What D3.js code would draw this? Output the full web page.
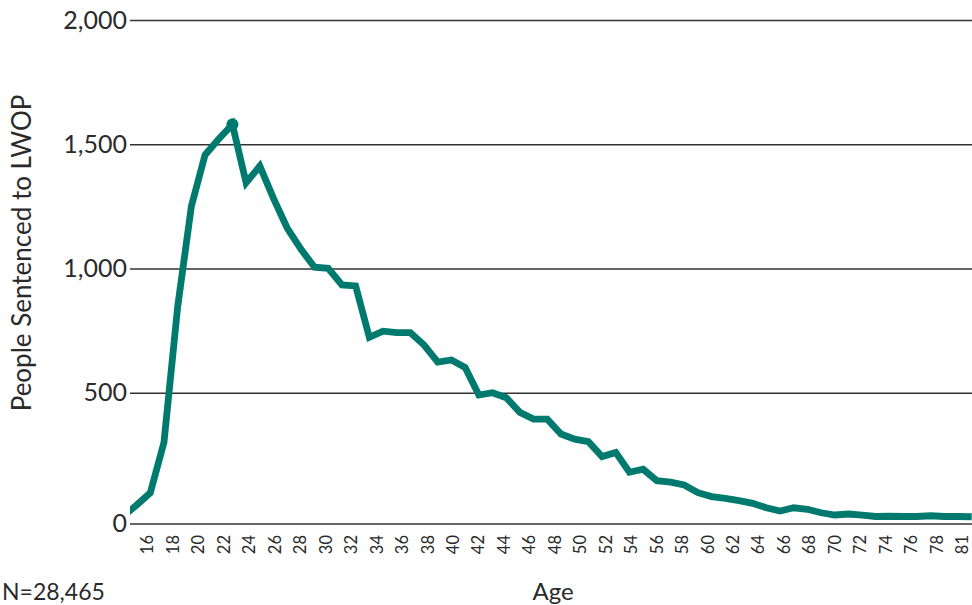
<!DOCTYPE html>
<html>
<head>
<meta charset="utf-8">
<script src="https://cdn.jsdelivr.net/npm/d3@7"></script>
<style>
  html, body { margin: 0; padding: 0; background: #fff; }
  svg { display: block; font-family: Lato, "Open Sans", sans-serif; }
</style>
</head>
<body>
<svg id="chart"></svg>
<script>
// people sentenced to LWOP, by age at sentencing
var ages = [15,16,17,18,19,20,21,22,23,24,25,26,27,28,29,30,31,32,33,34,35,36,37,38,39,
  40,41,42,43,44,45,46,47,48,49,50,51,52,53,54,55,56,57,58,59,60,61,62,63,64,
  65,66,67,68,69,70,71,72,73,74,75,76,77];
var counts = [2,48,97,300,845,1250,1457,1521,1580,1345,1412,1282,1163,1078,1005,1001,934,930,723,748,742,742,692,623,632,
  602,491,500,480,421,394,394,334,313,303,243,260,180,192,146,140,129,98,82,75,66,55,37,24,37,
  31,17,8,12,8,2,3,2,2,5,2,2,1];
var peakAge = 23;

var ageLabels = ['16','18','20','22','24','26','28','30','32','34','36','38','40','42','44','46',
  '48','50','52','54','56','58','60','62','64','66','68','70','72','74','76','78','81'];
var yTicks = [0, 500, 1000, 1500, 2000];

var width = 972, height = 605;
var left = 130, right = 972;
var baseOffset = 7;   // x axis line sits a little below zero

var data = ages.map(function(a, i) { return {age: a, value: counts[i]}; });

var svg = d3.select('#chart')
  .attr('width', width)
  .attr('height', height);

var x = d3.scaleLinear()
  .domain([15, 77])
  .range([122.9, 971.7]);

var xLabel = d3.scalePoint()
  .domain(ageLabels)
  .range([147, 961.7]);

var y = d3.scaleLinear()
  .domain([0, 2000])
  .range([517, 20]);

var baseY = y(0) + baseOffset;

// grid + y labels
svg.append('g')
  .attr('transform', 'translate(' + left + ',0)')
  .call(d3.axisLeft(y).tickValues(yTicks).tickSize(-(right - left)).tickPadding(3).tickFormat(d3.format(',')))
  .call(function(g) {
    g.select('.domain').remove();
    g.selectAll('.tick').filter(function(d) { return d === 0; })
      .attr('transform', 'translate(0,' + baseY + ')');
    g.selectAll('.tick line').attr('stroke', '#333').attr('stroke-width', 1.3);
    g.selectAll('.tick text')
      .attr('fill', '#2a2a2a')
      .attr('font-size', 25)
      .attr('font-family', 'Lato, sans-serif');
  });

// x labels
svg.append('g')
  .attr('transform', 'translate(0,' + baseY + ')')
  .call(d3.axisBottom(xLabel).tickSize(0))
  .call(function(g) {
    g.select('.domain').remove();
    g.selectAll('.tick text')
      .attr('transform', 'rotate(-90)')
      .attr('x', -11)
      .attr('y', 0)
      .attr('dy', '0.36em')
      .style('text-anchor', 'end')
      .attr('fill', '#2a2a2a')
      .attr('font-size', 16.5)
      .attr('font-family', 'Lato, sans-serif');
  });

svg.append('defs').append('clipPath')
  .attr('id', 'plot-clip')
  .append('rect')
  .attr('x', left)
  .attr('y', 0)
  .attr('width', right - left)
  .attr('height', height);

var line = d3.line()
  .x(function(d) { return x(d.age); })
  .y(function(d) { return y(d.value); });

var teal = '#007a6e';

svg.append('path')
  .datum(data)
  .attr('clip-path', 'url(#plot-clip)')
  .attr('fill', 'none')
  .attr('stroke', teal)
  .attr('stroke-width', 6.8)
  .attr('d', line);

var peak = data.filter(function(d) { return d.age === peakAge; })[0];
svg.append('circle')
  .attr('cx', x(peak.age))
  .attr('cy', y(peak.value))
  .attr('r', 6)
  .attr('fill', teal);

// titles
svg.append('text')
  .attr('transform', 'translate(31,' + 253 + ') rotate(-90)')
  .attr('text-anchor', 'middle')
  .attr('fill', '#2a2a2a')
  .attr('font-size', 26)
  .text('People Sentenced to LWOP');

svg.append('text')
  .attr('x', 553)
  .attr('y', 600)
  .attr('text-anchor', 'middle')
  .attr('fill', '#2a2a2a')
  .attr('font-size', 24)
  .text('Age');

svg.append('text')
  .attr('x', 2)
  .attr('y', 600)
  .attr('fill', '#2a2a2a')
  .attr('font-size', 23)
  .text('N=28,465');
</script>
</body>
</html>
